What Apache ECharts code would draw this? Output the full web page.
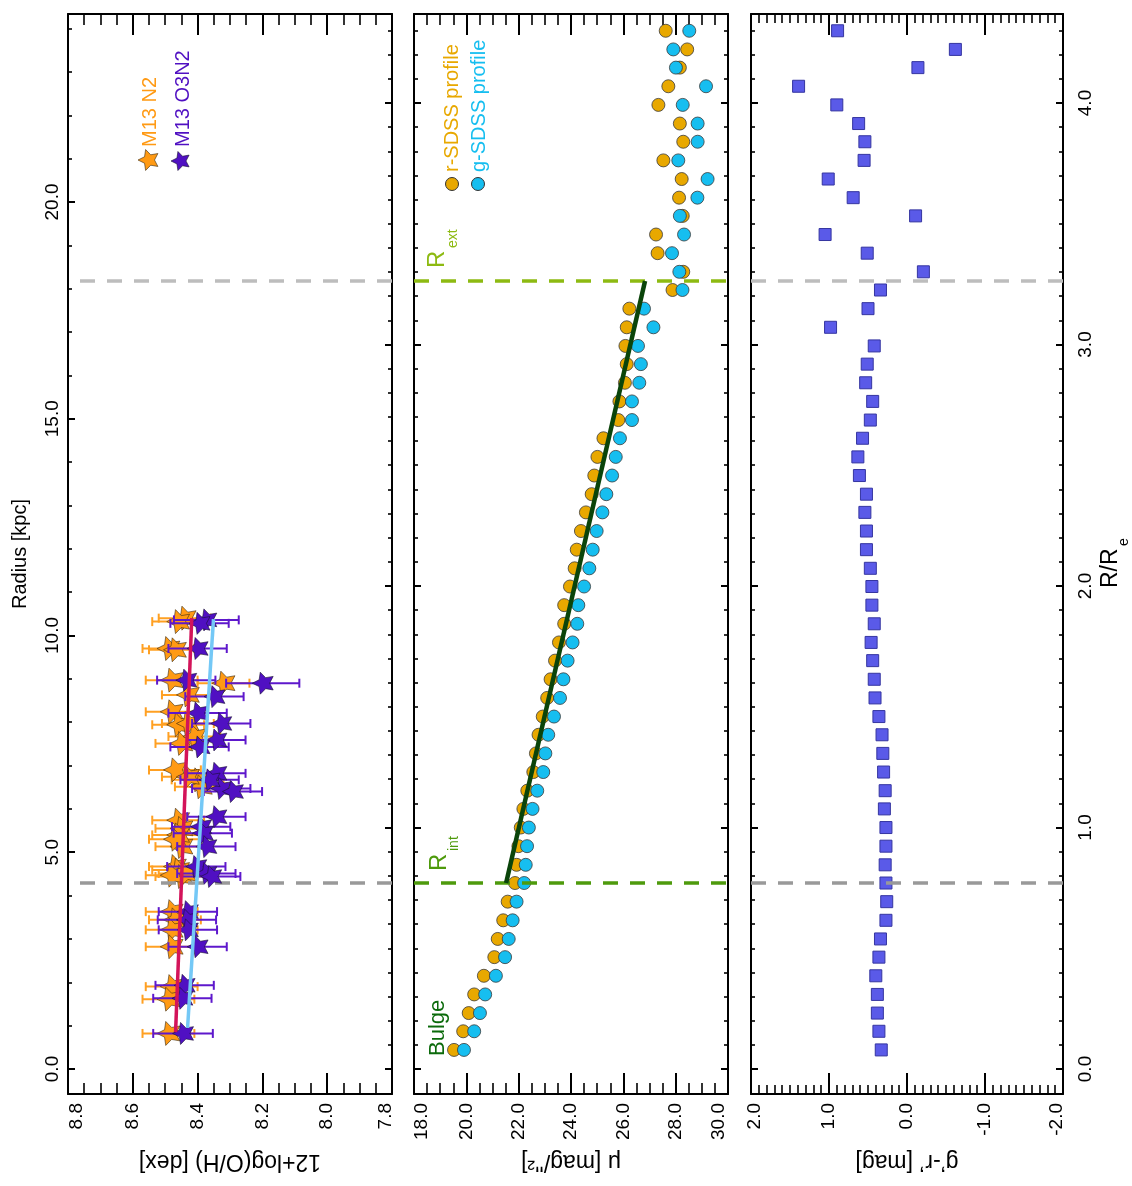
<!DOCTYPE html>
<html>
<head>
<meta charset="utf-8">
<script src="https://cdn.jsdelivr.net/npm/echarts@6/dist/echarts.min.js"></script>
<style>
html,body{margin:0;padding:0;background:#fff;}
#chart{width:1132px;height:1186px;}
</style>
</head>
<body>
<div id="chart"></div>
<script>
// ================= DATA =================
// Panel 1: metallicity (12+log(O/H)) vs radius [kpc]
const n2Rad = [0.82, 1.90, 1.61, 3.63, 3.44, 3.21, 2.82, 4.67, 4.59, 4.44, 4.51, 4.47, 5.74, 5.55, 5.13, 5.40, 5.30, 6.90, 6.67, 6.51, 6.74, 8.24, 7.94, 7.51, 7.97, 7.67, 8.97, 8.90, 8.63, 9.70, 9.67, 10.40, 10.32];
const n2Oh  = [8.49, 8.48, 8.49, 8.48, 8.47, 8.48, 8.48, 8.47, 8.46, 8.45, 8.44, 8.48, 8.46, 8.45, 8.45, 8.46, 8.47, 8.47, 8.40, 8.39, 8.43, 8.48, 8.46, 8.45, 8.43, 8.41, 8.48, 8.32, 8.43, 8.49, 8.47, 8.44, 8.46];
const n2Err = [0.08, 0.08, 0.08, 0.08, 0.08, 0.08, 0.08, 0.08, 0.08, 0.08, 0.08, 0.08, 0.08, 0.08, 0.08, 0.08, 0.08, 0.08, 0.08, 0.08, 0.08, 0.08, 0.08, 0.08, 0.08, 0.08, 0.08, 0.08, 0.08, 0.08, 0.08, 0.08, 0.08];

const o3Rad = [0.82, 1.93, 1.63, 3.63, 3.44, 3.21, 2.82, 4.67, 4.51, 4.44, 5.82, 5.59, 5.44, 5.13, 6.82, 6.47, 6.40, 6.67, 8.21, 7.97, 7.59, 7.43, 8.59, 8.97, 8.90, 9.70, 10.36, 10.28];
const o3Oh  = [8.445, 8.44, 8.447, 8.43, 8.433, 8.43, 8.40, 8.404, 8.373, 8.358, 8.342, 8.389, 8.384, 8.373, 8.342, 8.327, 8.291, 8.363, 8.40, 8.327, 8.342, 8.394, 8.348, 8.435, 8.199, 8.40, 8.373, 8.394];
const o3Err = [0.092, 0.09, 0.09, 0.09, 0.09, 0.09, 0.09, 0.09, 0.09, 0.09, 0.09, 0.09, 0.09, 0.09, 0.09, 0.09, 0.09, 0.09, 0.09, 0.09, 0.09, 0.09, 0.09, 0.09, 0.113, 0.09, 0.10, 0.09];

const fitN2Rad = [0.85, 10.40];
const fitN2Oh  = [8.468, 8.418];
const fitO3Rad = [0.95, 10.38];
const fitO3Oh  = [8.431, 8.351];

// Panels 2 & 3: surface-brightness profiles and colour vs radius [kpc]
const profRad = [0.44, 0.87, 1.29, 1.72, 2.15, 2.58, 3.00, 3.43, 3.86, 4.29,
                 4.71, 5.14, 5.57, 6.00, 6.42, 6.85, 7.28, 7.71, 8.13, 8.56,
                 8.99, 9.42, 9.84, 10.27, 10.70, 11.13, 11.55, 11.98, 12.41, 12.84,
                 13.26, 13.69, 14.12, 14.55, 14.97, 15.40, 15.83, 16.26, 16.68, 17.11,
                 17.54, 17.97, 18.39, 18.82, 19.25, 19.68, 20.10, 20.53, 20.96, 21.39,
                 21.81, 22.24, 22.67, 23.10, 23.52, 23.95, 24.38];
const muR = [19.53, 19.88, 20.09, 20.30, 20.67, 21.07, 21.20, 21.41, 21.58, 21.86,
             21.92, 21.99, 22.08, 22.18, 22.33, 22.56, 22.66, 22.76, 22.92, 23.09,
             23.22, 23.39, 23.54, 23.74, 23.74, 23.96, 24.14, 24.22, 24.38, 24.57,
             24.79, 24.89, 25.01, 25.24, 25.81, 25.85, 26.06, 26.13, 26.08, 26.13,
             26.23, 27.88, 28.29, 27.31, 27.25, 28.27, 28.13, 28.23, 27.53, 28.29,
             28.16, 27.34, 27.72, 28.16, 28.44, 27.62, 27.40];
const muG = [19.91, 20.30, 20.52, 20.72, 21.13, 21.48, 21.62, 21.77, 21.92, 22.21,
             22.27, 22.32, 22.39, 22.53, 22.71, 22.94, 23.02, 23.13, 23.35, 23.58,
             23.71, 23.87, 24.06, 24.24, 24.28, 24.50, 24.70, 24.83, 24.98, 25.20,
             25.35, 25.57, 25.71, 25.87, 26.33, 26.33, 26.61, 26.67, 26.56, 27.15,
             26.79, 28.26, 28.14, 27.86, 28.32, 28.16, 28.83, 29.22, 28.10, 28.84,
             28.84, 28.27, 29.16, 28.01, 27.91, 28.52, 28.01];
const gMinusR = [0.33, 0.36, 0.38, 0.38, 0.40, 0.36, 0.34, 0.27, 0.26, 0.27,
                 0.28, 0.27, 0.27, 0.29, 0.28, 0.30, 0.31, 0.32, 0.36, 0.41,
                 0.42, 0.44, 0.46, 0.42, 0.45, 0.45, 0.47, 0.52, 0.52, 0.54,
                 0.52, 0.61, 0.63, 0.57, 0.47, 0.44, 0.53, 0.51, 0.42, 0.98,
                 0.50, 0.34, -0.21, 0.51, 1.05, -0.11, 0.69, 1.01, 0.55, 0.54,
                 0.62, 0.90, 1.39, -0.14, -0.62, 0.89, 0.65];

const fitMuRad = [4.29, 18.18];
const fitMu    = [21.52, 26.83];

const rIntKpc = 4.29;
const rExtKpc = 18.18;

// Tick label values
const kpcMajor = [0, 5, 10, 15, 20];
const rreMajor = [0, 1, 2, 3, 4];

// ================= AXIS RANGES / STYLE =================
const KPC_MIN = -0.577, KPC_MAX = 24.337;
const RRE_MIN = -0.1035, RRE_MAX = 4.3685;
const FONT = '"Liberation Sans", Arial, Helvetica, sans-serif';
const kpcMinor = []; for (let v = 0; v <= 24; v++) kpcMinor.push(v);
const rreMinor = []; for (let k = 0; k <= 43; k++) rreMinor.push(+(k * 0.1).toFixed(1));

function starVerts(cx, cy, R) {
  const pts = [];
  for (let k = 0; k < 10; k++) {
    const a = Math.PI + k * Math.PI / 5;
    const rr = (k % 2 === 0) ? R : R * 0.5;
    pts.push([cx + rr * Math.cos(a), cy + rr * Math.sin(a)]);
  }
  return pts;
}
const starPath = (function () {
  return starVerts(0, 0, 10).map((p, k) => (k === 0 ? 'M' : 'L') + p[0].toFixed(3) + ' ' + p[1].toFixed(3)).join(' ') + ' Z';
})();

const fmt1 = v => (Math.abs(v) < 1e-9 ? 0 : v).toFixed(1);

function xAxes(grid, min, max, interval, minorSplit, inverse, name, minorLen, shiftL, shiftR) {
  const leftVal = inverse ? max : min, rightVal = inverse ? min : max;
  const labelFmt = function (v) {
    const s = fmt1(v);
    if (Math.abs(v - leftVal) < 1e-6) return '{l|' + s + '}';
    if (Math.abs(v - rightVal) < 1e-6) return '{r|' + s + '}';
    return s;
  };
  const tokenBase = { fontSize: 19, color: '#000', fontFamily: FONT };
  const common = {
    gridIndex: grid, type: 'value', min: min, max: max, interval: interval, inverse: inverse,
    axisLine: { show: true, onZero: false, lineStyle: { color: '#000', width: 2 } },
    axisTick: { show: true, inside: true, length: 21, lineStyle: { color: '#000', width: 2 } },
    minorTick: { show: true, splitNumber: minorSplit, length: minorLen, lineStyle: { color: '#000', width: 1.6 } },
    splitLine: { show: false }, minorSplitLine: { show: false }
  };
  return [
    Object.assign({}, common, {
      position: 'bottom',
      axisLabel: { show: true, rotate: 90, interval: 0, fontSize: 19, color: '#000', margin: 9, fontFamily: FONT, formatter: labelFmt,
        rich: {
          l: Object.assign({ padding: [2 * shiftL, 0, 0, 0] }, tokenBase),
          r: Object.assign({ padding: [0, 0, 2 * shiftR, 0] }, tokenBase)
        } },
      name: name, nameLocation: 'middle', nameRotate: 180, nameGap: 56,
      nameTextStyle: { fontSize: 23, color: '#000', fontFamily: FONT }
    }),
    Object.assign({}, common, { position: 'top', axisLabel: { show: false } })
  ];
}

function yAxes(grid, pos, min, max, major, minor, withLabels, extra, margin) {
  const majorAx = Object.assign({
    gridIndex: grid, type: 'value', min: min, max: max, position: pos,
    axisLine: { show: true, onZero: false, lineStyle: { color: '#000', width: 2 } },
    axisTick: { show: true, inside: true, length: 7, customValues: major, lineStyle: { color: '#000', width: 2 } },
    axisLabel: withLabels ? { show: true, customValues: major, rotate: 90, fontSize: 19, color: '#000', margin: margin || 7, fontFamily: FONT, formatter: fmt1 } : { show: false },
    splitLine: { show: false }
  }, extra || {});
  const minorAx = {
    gridIndex: grid, type: 'value', min: min, max: max, position: pos,
    axisLine: { show: false, onZero: false },
    axisTick: { show: true, inside: true, length: 4, customValues: minor, lineStyle: { color: '#000', width: 1.6 } },
    axisLabel: { show: false }, splitLine: { show: false }
  };
  return [majorAx, minorAx];
}

const xAxisList = [].concat(
  xAxes(0, 7.8, 8.8, 0.2, 4, true, '12+log(O/H) [dex]', 11, 9, 6),
  xAxes(1, 18, 30, 2, 4, false, 'μ [mag/\'\'²]', 11, 8, 9),
  xAxes(2, -2, 2, 1, 10, true, 'g\u2019-r\u2019 [mag]', 9, 4, 6)
);

const yAxisList = [].concat(
  yAxes(0, 'left', KPC_MIN, KPC_MAX, kpcMajor, kpcMinor, true, {
    name: 'Radius [kpc]', nameLocation: 'middle', nameRotate: 90, nameGap: 38,
    nameTextStyle: { fontSize: 20, color: '#000', fontFamily: FONT }
  }, 6),                                                          // 0,1
  yAxes(0, 'right', RRE_MIN, RRE_MAX, rreMajor, rreMinor, false), // 2,3
  yAxes(1, 'left', RRE_MIN, RRE_MAX, rreMajor, rreMinor, false),  // 4,5
  yAxes(1, 'right', RRE_MIN, RRE_MAX, rreMajor, rreMinor, false), // 6,7
  yAxes(2, 'left', RRE_MIN, RRE_MAX, rreMajor, rreMinor, false),  // 8,9
  yAxes(2, 'right', RRE_MIN, RRE_MAX, rreMajor, rreMinor, true, null, 13),  // 10,11
  [
    { gridIndex: 1, type: 'value', min: KPC_MIN, max: KPC_MAX, show: false, splitLine: { show: false } }, // 12
    { gridIndex: 2, type: 'value', min: KPC_MIN, max: KPC_MAX, show: false, splitLine: { show: false } }  // 13
  ]
);

function zip(a, b, c) { return a.map((v, i) => c ? [v, b[i], c[i]] : [v, b[i]]); }

function errRender(color) {
  return function (params, api) {
    const z = api.value(0), r = api.value(1), e = api.value(2);
    const p1 = api.coord([z - e, r]);
    const p2 = api.coord([z + e, r]);
    const cap = 4.5;
    const st = { stroke: color, lineWidth: 2 };
    return {
      type: 'group', children: [
        { type: 'line', shape: { x1: p1[0], y1: p1[1], x2: p2[0], y2: p2[1] }, style: st },
        { type: 'line', shape: { x1: p1[0], y1: p1[1] - cap, x2: p1[0], y2: p1[1] + cap }, style: st },
        { type: 'line', shape: { x1: p2[0], y1: p2[1] - cap, x2: p2[0], y2: p2[1] + cap }, style: st }
      ]
    };
  };
}

function dashLine(value, color) {
  return { yAxis: value, lineStyle: { color: color, width: 3.5, type: [15, 12] } };
}

const ORANGE = '#FF9A14', PURPLE = '#5010C2', ORANGE_ERR = '#FFA022', PURPLE_ERR = '#5E18CC';
const RCOL = '#E8A800', GCOL = '#16BEF0', SQCOL = '#5A5AE8';

const series = [
  // ---- Panel 1 ----
  { type: 'custom', xAxisIndex: 0, yAxisIndex: 0, data: zip(n2Oh, n2Rad, n2Err),
    encode: { x: 0, y: 1 }, renderItem: errRender(ORANGE_ERR), z: 2, silent: true },
  { type: 'scatter', xAxisIndex: 0, yAxisIndex: 0, data: zip(n2Oh, n2Rad),
    symbol: 'path://' + starPath, symbolKeepAspect: true, symbolSize: 24,
    itemStyle: { color: ORANGE, borderColor: '#3a2a10', borderWidth: 0.6, opacity: 1 }, z: 3 },
  { type: 'custom', xAxisIndex: 0, yAxisIndex: 0, data: zip(o3Oh, o3Rad, o3Err),
    encode: { x: 0, y: 1 }, renderItem: errRender(PURPLE_ERR), z: 4, silent: true },
  { type: 'scatter', xAxisIndex: 0, yAxisIndex: 0, data: zip(o3Oh, o3Rad),
    symbol: 'path://' + starPath, symbolKeepAspect: true, symbolSize: 22,
    itemStyle: { color: PURPLE, borderColor: '#1a1030', borderWidth: 0.6, opacity: 1 }, z: 5 },
  { type: 'line', xAxisIndex: 0, yAxisIndex: 0, data: zip(fitN2Oh, fitN2Rad), showSymbol: false, symbol: 'none',
    lineStyle: { color: '#D3145A', width: 3.5 }, z: 6 },
  { type: 'line', xAxisIndex: 0, yAxisIndex: 0, data: zip(fitO3Oh, fitO3Rad), showSymbol: false, symbol: 'none',
    lineStyle: { color: '#74C8F6', width: 3.5 }, z: 6,
    markLine: { silent: true, symbol: ['none', 'none'], label: { show: false }, animation: false,
      data: [dashLine(rExtKpc, '#BDBDBD'), dashLine(rIntKpc, '#999999')] } },

  // ---- Panel 2 ----
  { type: 'scatter', xAxisIndex: 2, yAxisIndex: 12, data: zip(muR, profRad), symbolSize: 13,
    itemStyle: { color: RCOL, borderColor: '#3a3a3a', borderWidth: 0.8, opacity: 1 }, z: 3 },
  { type: 'scatter', xAxisIndex: 2, yAxisIndex: 12, data: zip(muG, profRad), symbolSize: 13,
    itemStyle: { color: GCOL, borderColor: '#3a3a3a', borderWidth: 0.8, opacity: 1 }, z: 4 },
  { type: 'line', xAxisIndex: 2, yAxisIndex: 12, data: zip(fitMu, fitMuRad), showSymbol: false, symbol: 'none',
    lineStyle: { color: '#0A440A', width: 4.5 }, z: 6,
    markLine: { silent: true, symbol: ['none', 'none'], label: { show: false }, animation: false,
      data: [dashLine(rExtKpc, '#8DBA12'), dashLine(rIntKpc, '#4E9A0C')] } },

  // ---- Panel 3 ----
  { type: 'scatter', xAxisIndex: 4, yAxisIndex: 13, data: zip(gMinusR, profRad), symbol: 'rect', symbolSize: 12,
    itemStyle: { color: SQCOL, borderColor: '#3535A0', borderWidth: 1, opacity: 1 }, z: 4,
    markLine: { silent: true, symbol: ['none', 'none'], label: { show: false }, animation: false,
      data: [dashLine(rExtKpc, '#BDBDBD'), dashLine(rIntKpc, '#999999')] } }
];

function vtext(x, y, text, color, size) {
  return { type: 'text', x: x, y: y, rotation: Math.PI / 2, silent: true,
    style: { text: text, fill: color, font: size + 'px ' + FONT, align: 'left', verticalAlign: 'middle' } };
}

const graphic = [
  // panel 1 legend
  { type: 'polygon', shape: { points: starVerts(149, 160, 11) }, silent: true,
    style: { fill: ORANGE, stroke: '#3a2a10', lineWidth: 0.6 } },
  { type: 'polygon', shape: { points: starVerts(181, 161, 10) }, silent: true,
    style: { fill: PURPLE, stroke: '#1a1030', lineWidth: 0.6 } },
  vtext(150, 147, 'M13 N2', '#FF9A14', 20),
  vtext(183, 147, 'M13 O3N2', '#5010C2', 20),
  // panel 2 legend
  { type: 'circle', shape: { cx: 452, cy: 184, r: 6.5 }, silent: true, style: { fill: RCOL, stroke: '#333', lineWidth: 1 } },
  { type: 'circle', shape: { cx: 478, cy: 184, r: 6.5 }, silent: true, style: { fill: GCOL, stroke: '#333', lineWidth: 1 } },
  vtext(452, 172, 'r-SDSS profile', RCOL, 20),
  vtext(479, 172, 'g-SDSS profile', GCOL, 20),
  // panel 2 annotations
  vtext(438, 1056, 'Bulge', '#0B6A0B', 22),
  vtext(439, 871, 'R', '#4E9A0C', 24),
  vtext(454, 851, 'int', '#4E9A0C', 14),
  vtext(437, 268, 'R', '#8DBA12', 24),
  vtext(453, 248, 'ext', '#8DBA12', 14),
  // R/Re axis title
  vtext(1111, 588, 'R/R', '#000', 23),
  vtext(1124, 546, 'e', '#000', 14)
];

const chart = echarts.init(document.getElementById('chart'), null, { renderer: 'canvas' });
chart.setOption({
  animation: false,
  backgroundColor: '#fff',
  grid: [
    { left: 68, top: 14, width: 324, height: 1080 },
    { left: 414, top: 14, width: 314, height: 1080 },
    { left: 751, top: 14, width: 312, height: 1080 }
  ],
  xAxis: xAxisList,
  yAxis: yAxisList,
  series: series,
  graphic: graphic
});
</script>
</body>
</html>
